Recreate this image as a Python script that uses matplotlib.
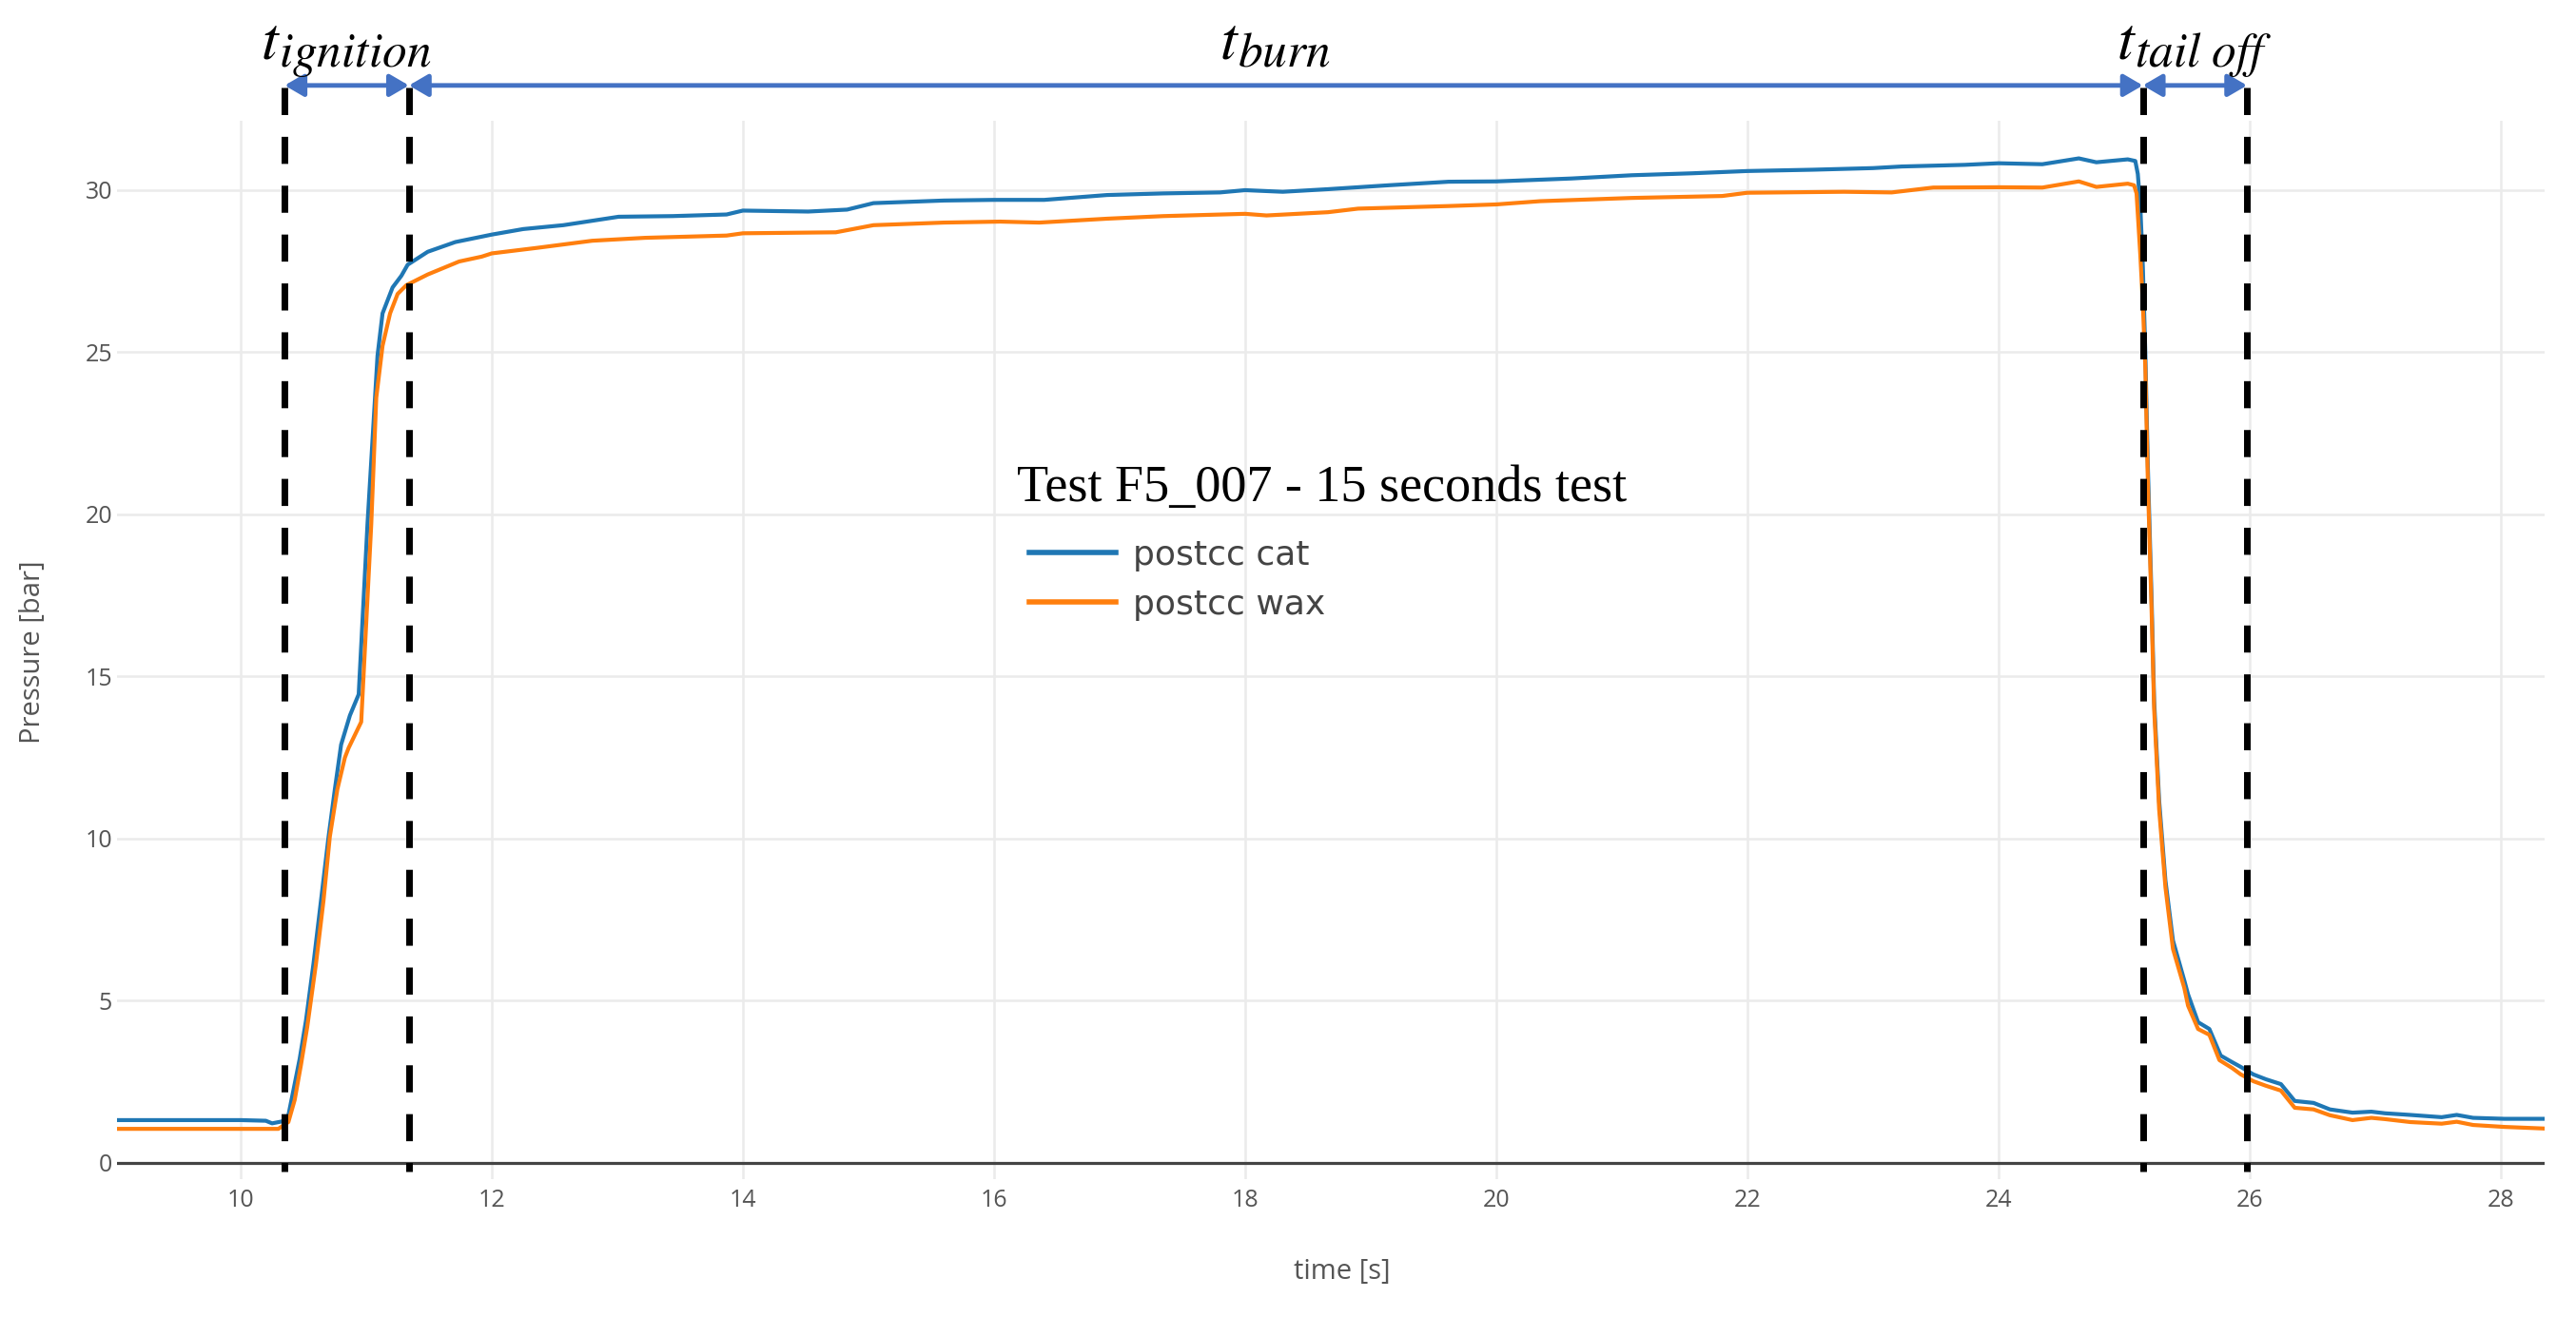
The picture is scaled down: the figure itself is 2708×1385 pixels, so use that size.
import matplotlib
matplotlib.use("Agg")
import matplotlib.pyplot as plt

plt.rcParams["font.family"] = ["Open Sans", "DejaVu Sans"]
plt.rcParams["mathtext.fontset"] = "stix"

# pressure traces
t_cat = [9.0, 10.0, 10.2, 10.25, 10.33, 10.38, 10.42, 10.47, 10.52, 10.58, 10.64,
         10.70, 10.75, 10.80, 10.87, 10.94, 11.01, 11.09, 11.13, 11.21, 11.28, 11.33,
         11.49, 11.71, 12.0, 12.25, 12.57, 13.01, 13.44, 13.87, 14.0, 14.52, 14.83,
         15.04, 15.6, 16.0, 16.4, 16.9, 17.35, 17.8, 18.0, 18.3, 18.66, 19.14, 19.62,
         20.0, 20.6, 21.08, 21.56, 22.0, 22.52, 23.0, 23.23, 23.73, 24.0, 24.35, 24.64,
         24.78, 25.03, 25.09, 25.11, 25.13, 25.15, 25.17, 25.19, 25.22, 25.24, 25.28,
         25.33, 25.39, 25.48, 25.51, 25.59, 25.68, 25.77, 25.86, 25.93, 26.03, 26.13,
         26.25, 26.36, 26.51, 26.64, 26.82, 26.97, 27.08, 27.28, 27.53, 27.65, 27.78,
         28.03, 28.35]
p_cat = [1.32, 1.32, 1.30, 1.22, 1.28, 1.47, 2.24, 3.21, 4.39, 6.15, 8.1,
         10.06, 11.52, 12.9, 13.8, 14.45, 19.7, 24.9, 26.2, 27.0, 27.36, 27.7,
         28.1, 28.4, 28.63, 28.8, 28.92, 29.18, 29.2, 29.25, 29.37, 29.34, 29.4,
         29.6, 29.68, 29.7, 29.7, 29.85, 29.9, 29.93, 30.0, 29.95, 30.03, 30.15, 30.26,
         30.27, 30.36, 30.46, 30.52, 30.59, 30.63, 30.68, 30.73, 30.78, 30.83, 30.8, 30.98,
         30.86, 30.95, 30.9, 30.5, 29.5, 27.65, 24.97, 21.47, 17.36, 14.27, 11.17,
         8.71, 6.86, 5.63, 5.2, 4.34, 4.13, 3.31, 3.11, 2.96, 2.73, 2.58,
         2.43, 1.91, 1.85, 1.65, 1.55, 1.58, 1.53, 1.48, 1.41, 1.48, 1.39,
         1.36, 1.36]

t_wax = [9.0, 10.0, 10.3, 10.38, 10.43, 10.48, 10.53, 10.60, 10.66, 10.71, 10.77,
         10.83, 10.86, 10.96, 11.04, 11.08, 11.13, 11.19, 11.25, 11.32, 11.49, 11.74,
         11.92, 12.0, 12.36, 12.8, 13.22, 13.87, 14.0, 14.74, 15.04, 15.6, 16.05,
         16.36, 16.9, 17.35, 18.0, 18.17, 18.66, 18.9, 19.62, 20.0, 20.35, 21.08,
         21.8, 22.0, 22.77, 23.15, 23.48, 24.0, 24.35, 24.64, 24.78, 25.03, 25.08,
         25.10, 25.13, 25.15, 25.17, 25.19, 25.22, 25.24, 25.28, 25.33, 25.39, 25.48,
         25.51, 25.59, 25.68, 25.76, 25.86, 25.93, 26.03, 26.13, 26.25, 26.36, 26.51,
         26.64, 26.82, 26.97, 27.08, 27.28, 27.53, 27.65, 27.78, 28.03, 28.35]
p_wax = [1.05, 1.05, 1.05, 1.26, 1.94, 3.02, 4.19, 6.15, 8.1, 10.06, 11.52,
         12.5, 12.8, 13.6, 19.7, 23.6, 25.2, 26.2, 26.8, 27.07, 27.4, 27.8,
         27.95, 28.05, 28.22, 28.44, 28.53, 28.6, 28.67, 28.7, 28.92, 29.0, 29.03,
         29.0, 29.12, 29.2, 29.27, 29.22, 29.32, 29.43, 29.51, 29.56, 29.66, 29.76,
         29.82, 29.92, 29.95, 29.93, 30.08, 30.09, 30.08, 30.27, 30.1, 30.2, 30.15,
         29.9, 28.0, 26.5, 24.5, 21.0, 17.0, 14.0, 10.9, 8.5, 6.6, 5.4,
         4.85, 4.13, 3.95, 3.17, 2.93, 2.73, 2.52, 2.38, 2.23, 1.7, 1.65,
         1.47, 1.32, 1.39, 1.35, 1.26, 1.21, 1.27, 1.17, 1.11, 1.06]

# phase boundaries [s] and the subscripts of the t labels
phase_t = [10.35, 11.34, 25.15, 25.98]
phase_subs = ["ignition", "burn", r"tail\ off"]

W, H = 2708, 1385
fig = plt.figure(figsize=(W / 100, H / 100), dpi=100)
ax = fig.add_axes([123 / W, 1 - 1240 / H, (2675 - 123) / W, (1240 - 127) / H])

l1, = ax.plot(t_cat, p_cat, color="#1f77b4", lw=3, label="postcc cat")
l2, = ax.plot(t_wax, p_wax, color="#ff7f0e", lw=3, label="postcc wax")

ax.set_xlim(9.015, 28.35)
ax.set_ylim(-0.5, 32.14)
ax.set_xticks(range(10, 29, 2))
ax.set_yticks(range(0, 31, 5))
ax.tick_params(length=0, labelsize=18, labelcolor="#555")
ax.tick_params(axis="x", pad=7)
ax.tick_params(axis="y", pad=3.6)
for s in ax.spines.values():
    s.set_visible(False)
ax.grid(True, color="#ebebeb", lw=1.8)
ax.set_axisbelow(True)
ax.axhline(0, color="#444", lw=2.3, zorder=1.5)

# dashed phase markers, going a bit above and below the plot area
y_top, y_bot = 33.17, -0.26
for t in phase_t:
    ax.plot([t, t], [y_top, y_bot], color="black", lw=5, dashes=(4.1, 3.3),
            solid_capstyle="butt", dash_capstyle="butt", clip_on=False, zorder=5)

# arrows between the markers
y_arr = 33.23
for i in range(3):
    a, b = phase_t[i], phase_t[i + 1]
    ax.annotate("", xy=(b, y_arr), xytext=(a, y_arr), annotation_clip=False,
                arrowprops=dict(arrowstyle="<|-|>,head_length=1.2,head_width=0.7",
                                color="#4472C4", lw=3.5, shrinkA=0, shrinkB=0,
                                mutation_scale=10))

# t labels: big italic t with a large subscript, centred over each phase
renderer = fig.canvas.get_renderer()
base_px = H - 62
for i in range(3):
    mid = (phase_t[i] + phase_t[i + 1]) / 2
    cx = ax.transData.transform((mid, 0))[0]
    t_main = fig.text(0, base_px / H, r"$t$", fontsize=46, va="baseline", ha="left")
    t_sub = fig.text(0, (base_px - 8) / H, r"$" + phase_subs[i] + "$", fontsize=37,
                     va="baseline", ha="left")
    w1 = t_main.get_window_extent(renderer).width
    w2 = t_sub.get_window_extent(renderer).width
    left = cx - (w1 + w2) / 2
    t_main.set_x(left / W)
    t_sub.set_x((left + w1 - 2) / W)

fig.text(1069 / W, 1 - 527 / H, "Test F5_007 - 15 seconds test",
         family="Liberation Serif", fontsize=39, va="baseline", ha="left")

leg = ax.legend(handles=[l1, l2], loc="upper left",
                bbox_to_anchor=(1082 / W, 1 - 567 / H), bbox_transform=fig.transFigure,
                frameon=False, prop={"family": "DejaVu Sans", "size": 26},
                handlelength=2.52, handletextpad=0.5,
                labelspacing=0.5, borderpad=0, borderaxespad=0)
for t in leg.get_texts():
    t.set_color("#444")
for ln in leg.get_lines():
    ln.set_linewidth(4)

fig.text(35 / W, 1 - 686 / H, "Pressure [bar]", rotation=90, ha="center",
         va="center", fontsize=21, color="#555")
fig.text(1411 / W, 1 - 1337 / H, "time [s]", ha="center", va="center",
         fontsize=21, color="#555")

fig.savefig("out.png", dpi=100)
